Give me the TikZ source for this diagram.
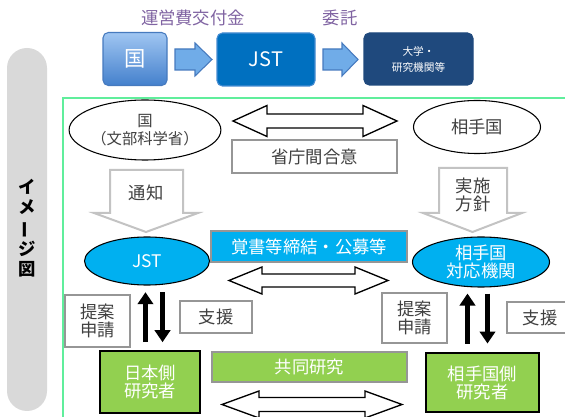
\documentclass[tikz,border=0pt]{standalone}
\usepackage{fontspec}
\setmainfont{Noto Sans CJK JP}
\usetikzlibrary{shapes.geometric,arrows.meta}

\definecolor{textgray}{RGB}{64,64,64}
\definecolor{boxgray}{RGB}{150,150,150}
\definecolor{arrowgray}{RGB}{195,195,195}
\definecolor{cyanfill}{RGB}{0,176,240}
\definecolor{greenfill}{RGB}{146,208,80}
\definecolor{labelpurple}{RGB}{128,100,162}
\definecolor{kunitop}{RGB}{160,198,242}
\definecolor{kunibottom}{RGB}{68,128,204}
\definecolor{jstblue}{RGB}{0,112,192}
\definecolor{navy}{RGB}{31,73,125}
\definecolor{arrowblue}{RGB}{112,172,232}
\definecolor{arrowedge}{RGB}{70,122,190}
\definecolor{framegreen}{RGB}{96,238,156}
\definecolor{pillgray}{RGB}{217,217,217}

\begin{document}
\begin{tikzpicture}[x=0.75pt, y=-0.75pt,
    txt/.style={text=textgray, font=\fontsize{13}{13.5}\selectfont, align=center, inner sep=0pt},
    greybox/.style={txt, draw=boxgray, line width=1.2pt, fill=white},
    colbox/.style={txt, text=white, line width=1.2pt},
    topbox/.style={rounded corners=4pt, text=white, inner sep=0pt, align=center, line width=0.8pt},
    oval/.style={txt, ellipse, draw=black, line width=0.8pt},
    blockarrow/.style={draw=black, fill=white, line width=1pt},
    greyarrow/.style={draw=arrowgray, fill=white, line width=1.5pt},
    bluearrow/.style={draw=arrowedge, fill=arrowblue, line width=0.8pt},
    thickarrow/.style={line width=4.2pt, -{Triangle[width=11.5pt,length=9pt]}}]

    \useasboundingbox (0,0) rectangle (565,417);
    \clip (0,0) rectangle (565,417);

    % side label
    \fill[pillgray, rounded corners=15pt] (7,48) rectangle (47,411);
    \node[font=\fontsize{13}{15.5}\bfseries\selectfont, align=center, inner sep=0pt] (side) at (27,228)
        {イ\\メ\\\rotatebox[origin=c]{90}{ー}\\ジ\\図};

    \draw[framegreen, line width=1.2pt] (63,98) rectangle (640,470);

    % top row
    \node at (193,18) [font=\fontsize{13}{15}\selectfont, text=labelpurple] (fundlbl) {運営費交付金};
    \node at (340,18) [font=\fontsize{13}{15}\selectfont, text=labelpurple] (itakulbl) {委託};

    \node at (135,59) [topbox, draw=arrowedge, top color=kunitop, bottom color=kunibottom,
        minimum width=48pt, minimum height=39.75pt, font=\fontsize{16}{18}\selectfont] (kuni) {国};
    \node at (266,59.5) [topbox, draw={rgb,255:red,70;green,140;blue,210}, fill=jstblue,
        minimum width=73.5pt, minimum height=39.75pt, font=\fontsize{15}{18}\selectfont] (jsttop) {JST};
    \node at (418.5,59) [topbox, draw=navy, fill=navy,
        minimum width=81.75pt, minimum height=39pt, font=\fontsize{8}{12}\selectfont] (univ) {大学・\\研究機関等};

    \draw[bluearrow] (175,49) -- (195,49) -- (195,43) -- (212,59.5) -- (195,76) -- (195,70) -- (175,70) -- cycle;
    \draw[bluearrow] (323,49) -- (342,49) -- (342,43) -- (358,59.5) -- (342,76) -- (342,70) -- (323,70) -- cycle;

    % governments
    \node at (145,130) [oval, fill=white, minimum width=105pt, minimum height=45pt,
        font=\fontsize{11.5}{13.5}\selectfont] (gov) {国\\（文部科学省）};
    \node at (477,127) [oval, fill=white, minimum width=95.25pt, minimum height=39.75pt] (partner) {相手国};

    \draw[blockarrow] (233,121) -- (267,105.5) -- (267,114) -- (363,114) -- (363,105.5) -- (397,121)
        -- (363,136.5) -- (363,128) -- (267,128) -- (267,136.5) -- cycle;
    \node at (314.5,156.5) [greybox, minimum width=123.75pt, minimum height=24.75pt] (agree) {省庁間合意};

    \draw[greyarrow] (110,170) -- (183,170) -- (183,213) -- (198,213) -- (146,232) -- (94,213) -- (110,213) -- cycle;
    \node at (146,193) [txt] (notice) {通知};
    \draw[greyarrow] (439,168) -- (507,168) -- (507,213) -- (522,213) -- (472.5,232) -- (423,213) -- (439,213) -- cycle;
    \node at (473,195) [txt] (policy) {実施\\方針};

    % funding agencies
    \node at (147,261) [oval, fill=cyanfill, text=white, minimum width=93.75pt, minimum height=36pt] (jst) {JST};
    \node at (481,262) [oval, fill=cyanfill, text=white, minimum width=102.75pt, minimum height=37.5pt] (agency) {相手国\\対応機関};

    \node at (309,246.5) [colbox, draw=boxgray, fill=cyanfill, minimum width=147pt, minimum height=23.25pt] (memo) {覚書等締結・公募等};
    \draw[blockarrow] (229,280.5) -- (262,267) -- (262,274) -- (355,274) -- (355,267) -- (388,280.5)
        -- (355,294) -- (355,287) -- (262,287) -- (262,294) -- cycle;

    % researchers
    \node at (97.5,321) [greybox, minimum width=48.75pt, minimum height=39pt] (propL) {提案\\申請};
    \node at (216,317) [greybox, minimum width=54pt, minimum height=24pt] (supL) {支援};
    \node at (150,382) [colbox, draw=black, fill=greenfill, minimum width=75pt, minimum height=46.5pt] (jp) {日本側\\研究者};

    \node at (414.5,318) [greybox, minimum width=48.75pt, minimum height=37.5pt] (propR) {提案\\申請};
    \node at (540,317.5) [greybox, minimum width=49.5pt, minimum height=23.25pt] (supR) {支援};
    \node at (482.5,382.5) [colbox, draw=black, fill=greenfill, minimum width=84.75pt, minimum height=44.25pt] (foreign) {相手国側\\研究者};

    \node at (309.5,367) [colbox, draw=boxgray, fill=greenfill, minimum width=146.25pt, minimum height=22.5pt] (joint) {共同研究};
    \draw[blockarrow] (222,404.5) -- (259,391) -- (259,397.5) -- (365,397.5) -- (365,391) -- (402,404.5)
        -- (365,418) -- (365,411.5) -- (259,411.5) -- (259,418) -- cycle;

    \draw[thickarrow, shorten <=6pt, shorten >=5pt] ([xshift=-3.4pt]jp.north) -- ([xshift=-3.4pt]jp.north |- jst.south);
    \draw[thickarrow, shorten <=5pt, shorten >=6pt] ([xshift=9.4pt]jp.north |- jst.south) -- ([xshift=9.4pt]jp.north);
    \draw[thickarrow, shorten <=6.5pt, shorten >=4.5pt] ([xshift=-11.25pt]foreign.north) -- ([xshift=-11.25pt]foreign.north |- agency.south);
    \draw[thickarrow, shorten <=4.5pt, shorten >=6.5pt] ([xshift=3.75pt]foreign.north |- agency.south) -- ([xshift=3.75pt]foreign.north);

\end{tikzpicture}
\end{document}
